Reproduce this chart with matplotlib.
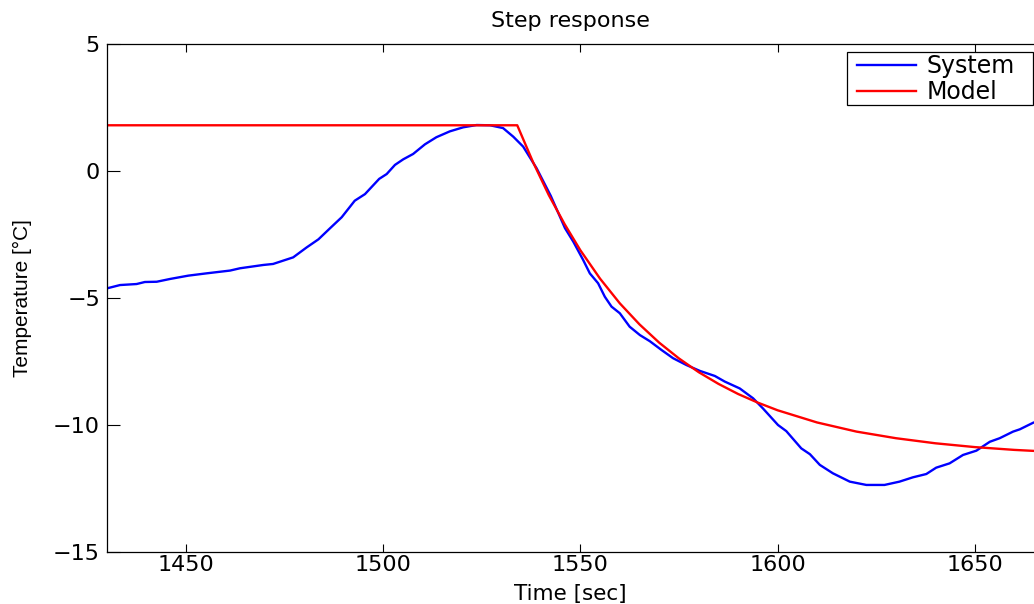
import matplotlib
matplotlib.use("Agg")
import matplotlib.pyplot as plt
from matplotlib.patches import Rectangle

sys_t = [1430.0, 1433.3, 1437.5, 1439.6, 1442.6, 1446.0, 1450.6, 1455.2, 1461.2, 1463.7,
         1469.6, 1472.1, 1477.2, 1480.6, 1483.6, 1486.5, 1489.5, 1492.8, 1495.4, 1499.0,
         1500.9, 1503.0, 1505.1, 1507.6, 1510.6, 1513.5, 1516.9, 1520.3, 1523.7, 1527.1,
         1530.4, 1533.0, 1535.5, 1538.9, 1542.5, 1546.1, 1548.2, 1550.7, 1552.4, 1554.5,
         1556.2, 1557.9, 1560.0, 1562.5, 1565.1, 1567.6, 1570.6, 1573.5, 1576.9, 1580.3,
         1584.1, 1586.6, 1590.4, 1593.8, 1596.3, 1600.1, 1602.2, 1606.0, 1608.2, 1610.7,
         1614.0, 1618.3, 1622.5, 1627.1, 1630.9, 1634.3, 1637.7, 1640.2, 1643.6, 1647.0,
         1650.4, 1653.8, 1656.3, 1659.7, 1661.4, 1664.8, 1666.0]
sys_y = [-4.62, -4.49, -4.45, -4.37, -4.36, -4.25, -4.12, -4.03, -3.92, -3.83,
         -3.70, -3.66, -3.40, -3.01, -2.69, -2.26, -1.82, -1.17, -0.91, -0.31,
         -0.12, 0.24, 0.46, 0.67, 1.05, 1.33, 1.56, 1.72, 1.81, 1.80,
         1.69, 1.35, 0.96, 0.11, -0.98, -2.25, -2.78, -3.50, -4.03, -4.42,
         -4.95, -5.34, -5.60, -6.13, -6.46, -6.70, -7.05, -7.37, -7.64, -7.87,
         -8.07, -8.29, -8.56, -8.95, -9.35, -10.00, -10.24, -10.92, -11.15, -11.57,
         -11.90, -12.23, -12.36, -12.36, -12.23, -12.06, -11.93, -11.68, -11.51, -11.18,
         -11.01, -10.66, -10.52, -10.26, -10.17, -9.91, -9.85]

# fitted model
mod_t = [1430, 1534, 1538, 1542, 1546, 1550, 1555, 1560, 1565, 1570, 1575, 1580,
         1585, 1590, 1595, 1600, 1610, 1620, 1630, 1640, 1650, 1660, 1670]
mod_y = [1.80, 1.80, 0.35, -0.95, -2.09, -3.12, -4.24, -5.21, -6.04, -6.76, -7.38, -7.92,
         -8.38, -8.78, -9.12, -9.42, -9.90, -10.26, -10.52, -10.72, -10.87, -10.98, -11.06]

x_ticks = [1450, 1500, 1550, 1600, 1650]
y_ticks = [-15, -10, -5, 0, 5]

W, H = 1034, 604
FS = 16
font = "DejaVu Sans"

fig = plt.figure(figsize=(W / 100, H / 100), dpi=100)
fig.patch.set_facecolor("white")
ax = fig.add_axes([107 / W, (H - 552) / H, (W - 107) / W, 508 / H])

ax.plot(sys_t, sys_y, color="#0000ff", linewidth=1.7, label="System")
ax.plot(mod_t, mod_y, color="#ff0000", linewidth=1.7, label="Model")

ax.set_xlim(1430, 1665)
ax.set_ylim(-15, 5)
ax.set_xticks(x_ticks)
ax.set_yticks(y_ticks)

for lab in ax.get_xticklabels() + ax.get_yticklabels():
    lab.set_fontfamily(font)
    lab.set_fontsize(FS)
ax.tick_params(axis="both", direction="in", top=True, right=False, colors="black")
ax.tick_params(axis="x", length=6, pad=2)
ax.tick_params(axis="y", length=9, pad=5)
ax.spines["right"].set_visible(False)
for side in ("left", "bottom", "top"):
    ax.spines[side].set_linewidth(0.9)
    ax.spines[side].set_color("black")

ax.set_title("Step response", fontsize=FS, family=font, pad=12)
ax.set_xlabel("Time [sec]", fontsize=15.5, family=font, va="baseline")
ax.xaxis.set_label_coords(0.5, (552 - 600) / 508)
ax.set_ylabel("Temperature [°C]", fontsize=15, family="Liberation Sans", labelpad=15)

# legend entries, with a square box drawn where the reference has it
leg = ax.legend(loc="upper left", bbox_to_anchor=(857 / W, 1 - 54 / H),
                bbox_transform=fig.transFigure, prop={"family": font, "size": 17},
                frameon=False, handlelength=2.5, borderpad=0, labelspacing=0.1,
                handletextpad=0.45, borderaxespad=0)
fig.add_artist(Rectangle((847 / W, 1 - 105 / H), (1033 - 847) / W, 53 / H,
                         transform=fig.transFigure, facecolor="white",
                         edgecolor="black", linewidth=0.9, zorder=4))
leg.set_zorder(5)
fig.add_artist(leg)

fig.savefig("out.png", dpi=100)
